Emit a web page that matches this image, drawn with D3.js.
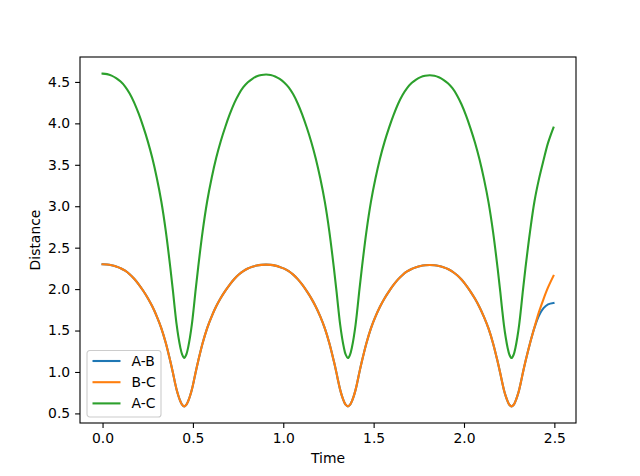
<!DOCTYPE html>
<html>
<head>
<meta charset="utf-8">
<script src="https://cdn.jsdelivr.net/npm/d3@7"></script>
<style>
  body { margin: 0; background: #fff; }
  text { font-family: "DejaVu Sans", sans-serif; }
</style>
</head>
<body>
<svg width="640" height="476"></svg>
<script>

// time values
var time = [
  0, .025, .05, .075, .1, .125, .15, .175, .2, .225, .25, .275, .3, .325, .35, .375, .39, .40, .41, .42, .43, .44, .452,
  .464, .474, .484, .494, .504, .514, .529, .554, .579, .604, .629, .654, .679, .704, .729, .754, .779, .804, .829, .854, .879, .905,
  .930, .955, .980, 1.005, 1.030, 1.055, 1.080, 1.105, 1.130, 1.155, 1.180, 1.205, 1.230, 1.255, 1.280, 1.295, 1.305, 1.315, 1.325, 1.335, 1.345, 1.358,
  1.370, 1.380, 1.390, 1.400, 1.410, 1.420, 1.435, 1.460, 1.485, 1.510, 1.535, 1.560, 1.585, 1.610, 1.635, 1.660, 1.685, 1.710, 1.735, 1.760, 1.785, 1.811,
  1.836, 1.861, 1.886, 1.911, 1.936, 1.961, 1.986, 2.011, 2.036, 2.061, 2.086, 2.111, 2.136, 2.161, 2.186, 2.201, 2.211, 2.221, 2.231, 2.241, 2.251, 2.263,
  2.275, 2.285, 2.295, 2.305, 2.315, 2.325, 2.340, 2.365, 2.390, 2.415, 2.440, 2.465, 2.495
];

var abValues = [
  2.300, 2.297, 2.288, 2.273, 2.252, 2.222, 2.180, 2.125, 2.058, 1.980, 1.893, 1.792, 1.672, 1.530, 1.350, 1.130, 0.985, 0.880, 0.785, 0.710, 0.650, 0.607, 0.585,
  0.607, 0.650, 0.710, 0.785, 0.880, 0.985, 1.130, 1.350, 1.530, 1.672, 1.792, 1.892, 1.978, 2.055, 2.122, 2.176, 2.218, 2.248, 2.269, 2.284, 2.292, 2.295,
  2.292, 2.283, 2.268, 2.247, 2.217, 2.175, 2.120, 2.053, 1.975, 1.888, 1.787, 1.667, 1.526, 1.347, 1.128, 0.983, 0.879, 0.784, 0.709, 0.649, 0.606, 0.585,
  0.606, 0.649, 0.709, 0.784, 0.879, 0.983, 1.128, 1.347, 1.526, 1.667, 1.787, 1.887, 1.973, 2.050, 2.117, 2.171, 2.213, 2.243, 2.264, 2.279, 2.287, 2.290,
  2.287, 2.278, 2.263, 2.242, 2.212, 2.170, 2.115, 2.048, 1.970, 1.883, 1.782, 1.662, 1.522, 1.344, 1.126, 0.982, 0.878, 0.783, 0.708, 0.648, 0.605, 0.585,
  0.605, 0.648, 0.708, 0.783, 0.878, 0.982, 1.126, 1.344, 1.535, 1.680, 1.770, 1.815, 1.832
];

var bcValues = [
  2.300, 2.297, 2.288, 2.273, 2.252, 2.222, 2.180, 2.125, 2.058, 1.980, 1.893, 1.792, 1.672, 1.530, 1.350, 1.130, 0.985, 0.880, 0.785, 0.710, 0.650, 0.607, 0.585,
  0.607, 0.650, 0.710, 0.785, 0.880, 0.985, 1.130, 1.350, 1.530, 1.672, 1.792, 1.892, 1.978, 2.055, 2.122, 2.176, 2.218, 2.248, 2.269, 2.284, 2.292, 2.295,
  2.292, 2.283, 2.268, 2.247, 2.217, 2.175, 2.120, 2.053, 1.975, 1.888, 1.787, 1.667, 1.526, 1.347, 1.128, 0.983, 0.879, 0.784, 0.709, 0.649, 0.606, 0.585,
  0.606, 0.649, 0.709, 0.784, 0.879, 0.983, 1.128, 1.347, 1.526, 1.667, 1.787, 1.887, 1.973, 2.050, 2.117, 2.171, 2.213, 2.243, 2.264, 2.279, 2.287, 2.290,
  2.287, 2.278, 2.263, 2.242, 2.212, 2.170, 2.115, 2.048, 1.970, 1.883, 1.782, 1.662, 1.522, 1.344, 1.126, 0.982, 0.878, 0.783, 0.708, 0.648, 0.605, 0.585,
  0.605, 0.648, 0.708, 0.783, 0.878, 0.982, 1.126, 1.344, 1.540, 1.725, 1.880, 2.020, 2.160
];

var acValues = [
  4.600, 4.594, 4.576, 4.546, 4.504, 4.444, 4.360, 4.250, 4.116, 3.960, 3.786, 3.584, 3.344, 3.060, 2.700, 2.260, 1.970, 1.760, 1.570, 1.420, 1.300, 1.214, 1.170,
  1.214, 1.300, 1.420, 1.570, 1.760, 1.970, 2.260, 2.700, 3.060, 3.344, 3.584, 3.784, 3.956, 4.110, 4.244, 4.352, 4.436, 4.496, 4.538, 4.568, 4.584, 4.590,
  4.584, 4.566, 4.536, 4.494, 4.434, 4.350, 4.240, 4.106, 3.950, 3.776, 3.574, 3.334, 3.052, 2.694, 2.256, 1.966, 1.758, 1.568, 1.418, 1.298, 1.212, 1.168,
  1.212, 1.298, 1.418, 1.568, 1.758, 1.966, 2.256, 2.694, 3.052, 3.334, 3.574, 3.774, 3.946, 4.100, 4.234, 4.342, 4.426, 4.486, 4.528, 4.558, 4.574, 4.580,
  4.574, 4.556, 4.526, 4.484, 4.424, 4.340, 4.230, 4.096, 3.940, 3.766, 3.564, 3.324, 3.044, 2.688, 2.252, 1.964, 1.756, 1.566, 1.416, 1.296, 1.210, 1.168,
  1.210, 1.296, 1.416, 1.566, 1.756, 1.964, 2.252, 2.688, 3.060, 3.330, 3.555, 3.765, 3.950
];

var seriesNames = ["A-B", "B-C", "A-C"];
var seriesColors = ["#1f77b4", "#ff7f0e", "#2ca02c"];
var xTicks = [0, 0.5, 1.0, 1.5, 2.0, 2.5];
var yTicks = [0.5, 1.0, 1.5, 2.0, 2.5, 3.0, 3.5, 4.0, 4.5];

var svg = d3.select("svg"),
    margin = {top: 57, right: 64, bottom: 53, left: 80},
    width = +svg.attr("width") - margin.left - margin.right,
    height = +svg.attr("height") - margin.top - margin.bottom;

var series = [abValues, bcValues, acValues];

// matplotlib style 5% padding around the data
var xMin = d3.min(time), xMax = d3.max(time);
var yMin = d3.min(series, function(s) { return d3.min(s); }),
    yMax = d3.max(series, function(s) { return d3.max(s); });
var xPad = (xMax - xMin) * 0.05, yPad = (yMax - yMin) * 0.05;

var x = d3.scaleLinear()
    .domain([xMin - xPad, xMax + xPad])
    .range([0, width]);

var y = d3.scaleLinear()
    .domain([yMin - yPad, yMax + yPad])
    .range([height, 0]);

var g = svg.append("g")
    .attr("transform", "translate(" + margin.left + "," + margin.top + ")");

//lines
var line = d3.line()
    .x(function(d, i) { return x(time[i]); })
    .y(function(d) { return y(d); })
    .curve(d3.curveCatmullRom.alpha(0.5));

g.selectAll(".series")
    .data(series)
    .enter().append("path")
    .attr("class", "series")
    .attr("d", line)
    .attr("fill", "none")
    .attr("stroke", function(d, i) { return seriesColors[i]; })
    .attr("stroke-width", 2.1)
    .attr("stroke-linejoin", "round")
    .attr("stroke-linecap", "square");

// axes
var xAxis = g.append("g")
    .attr("transform", "translate(0," + height + ")")
    .call(d3.axisBottom(x).tickValues(xTicks).tickFormat(d3.format(".1f")).tickSizeOuter(0).tickSize(4.9).tickPadding(4.9));

var yAxis = g.append("g")
    .call(d3.axisLeft(y).tickValues(yTicks).tickFormat(d3.format(".1f")).tickSizeOuter(0).tickSize(4.9).tickPadding(4.9));

[xAxis, yAxis].forEach(function(a) {
  a.select(".domain").remove();
  a.selectAll(".tick line").attr("stroke", "#000").attr("stroke-width", 1.1);
  a.selectAll(".tick text").attr("fill", "#000").style("font-size", "13.9px")
      .style("font-family", "'DejaVu Sans', sans-serif");
});

// frame
g.append("rect")
    .attr("width", width)
    .attr("height", height)
    .attr("fill", "none")
    .attr("stroke", "#000")
    .attr("stroke-width", 1.1);

// axis labels
svg.append("text")
    .attr("x", margin.left + width / 2)
    .attr("y", 463)
    .attr("text-anchor", "middle")
    .style("font-size", "13.9px")
    .text("Time");

svg.append("text")
    .attr("transform", "translate(40," + (margin.top + height / 2) + ") rotate(-90)")
    .attr("text-anchor", "middle")
    .style("font-size", "13.9px")
    .text("Distance");

// legend
var legend = g.append("g")
    .attr("transform", "translate(7," + (height - 72.5) + ")");

legend.append("rect")
    .attr("width", 74)
    .attr("height", 66.5)
    .attr("rx", 2.8)
    .attr("fill", "#fff")
    .attr("fill-opacity", 0.8)
    .attr("stroke", "#cccccc")
    .attr("stroke-width", 1.1);

var items = legend.selectAll(".item")
    .data(seriesNames)
    .enter().append("g")
    .attr("class", "item")
    .attr("transform", function(d, i) { return "translate(0," + (10.5 + i * 21.2) + ")"; });

items.append("line")
    .attr("x1", 5.5).attr("x2", 33.5)
    .attr("stroke", function(d, i) { return seriesColors[i]; })
    .attr("stroke-width", 2.1);

items.append("text")
    .attr("x", 44.5)
    .attr("dy", "0.36em")
    .style("font-size", "13.9px")
    .text(function(d) { return d; });

</script>
</body>
</html>
